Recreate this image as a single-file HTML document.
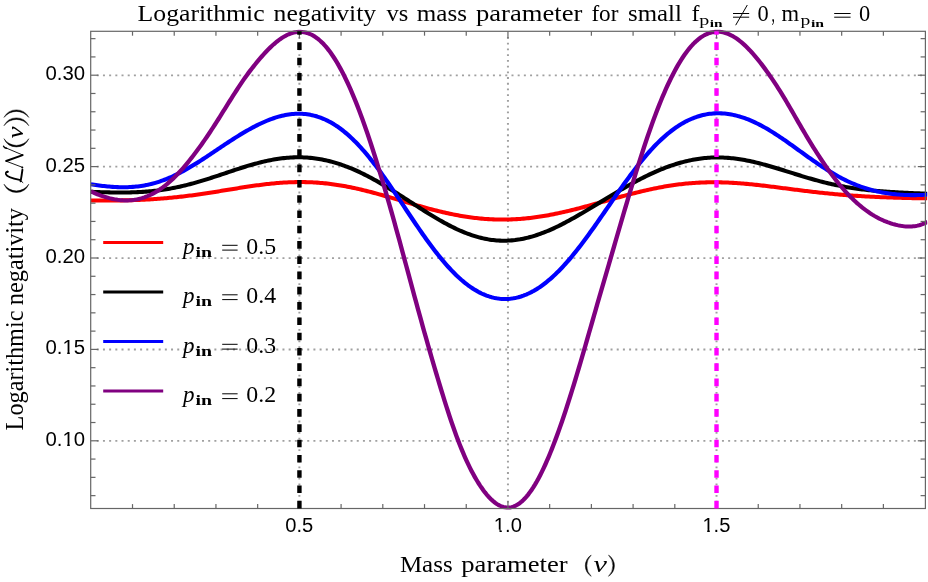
<!DOCTYPE html>
<html><head><meta charset="utf-8"><title>Logarithmic negativity vs mass parameter</title>
<style>
html,body{margin:0;padding:0;background:#fff;}
body{width:928px;height:582px;position:relative;overflow:hidden;font-family:"Liberation Sans",sans-serif;}
svg text{white-space:pre;}
</style></head><body>
<svg width="928" height="582" viewBox="0 0 928 582" style="position:absolute;left:0;top:0;will-change:transform">
<defs><clipPath id="cp"><rect x="90.20" y="29.30" width="837.00" height="481.20"/></clipPath></defs>
<g stroke="#a0a0a0" fill="none">
<line x1="96.76" y1="440.90" x2="925.40" y2="440.90" stroke-width="1.8" stroke-dasharray="2 4.19"/>
<line x1="96.76" y1="349.50" x2="925.40" y2="349.50" stroke-width="1.8" stroke-dasharray="2 4.19"/>
<line x1="96.76" y1="258.10" x2="925.40" y2="258.10" stroke-width="1.8" stroke-dasharray="2 4.19"/>
<line x1="96.76" y1="166.70" x2="925.40" y2="166.70" stroke-width="1.8" stroke-dasharray="2 4.19"/>
<line x1="96.76" y1="75.30" x2="925.40" y2="75.30" stroke-width="1.8" stroke-dasharray="2 4.19"/>
<line x1="299.38" y1="37.03" x2="299.38" y2="508.50" stroke-width="2" stroke-dasharray="1.8 3.9246"/>
<line x1="507.95" y1="37.03" x2="507.95" y2="508.50" stroke-width="2" stroke-dasharray="1.8 3.9246"/>
<line x1="716.52" y1="37.03" x2="716.52" y2="508.50" stroke-width="2" stroke-dasharray="1.8 3.9246"/>
</g>
<g clip-path="url(#cp)"><g transform="scale(1.081,1)" fill="none" stroke-width="4.05" stroke-linejoin="round">
<path d="M84.00,200.47 L85.55,200.49 L87.10,200.50 L88.65,200.52 L90.20,200.53 L91.75,200.54 L93.30,200.54 L94.86,200.55 L96.41,200.55 L97.96,200.55 L99.51,200.55 L101.06,200.54 L102.61,200.53 L104.16,200.52 L105.71,200.50 L107.27,200.49 L108.82,200.47 L110.37,200.44 L111.92,200.42 L113.47,200.39 L115.02,200.35 L116.57,200.32 L118.12,200.28 L119.68,200.23 L121.23,200.18 L122.78,200.13 L124.33,200.08 L125.88,200.02 L127.43,199.95 L128.98,199.88 L130.54,199.81 L132.09,199.74 L133.64,199.65 L135.19,199.57 L136.74,199.48 L138.29,199.38 L139.84,199.28 L141.39,199.18 L142.95,199.07 L144.50,198.95 L146.05,198.83 L147.60,198.71 L149.15,198.58 L150.70,198.44 L152.25,198.30 L153.80,198.16 L155.36,198.01 L156.91,197.85 L158.46,197.69 L160.01,197.53 L161.56,197.36 L163.11,197.18 L164.66,197.00 L166.22,196.82 L167.77,196.62 L169.32,196.43 L170.87,196.23 L172.42,196.02 L173.97,195.81 L175.52,195.60 L177.07,195.38 L178.63,195.16 L180.18,194.93 L181.73,194.70 L183.28,194.46 L184.83,194.22 L186.38,193.98 L187.93,193.73 L189.48,193.48 L191.04,193.23 L192.59,192.97 L194.14,192.72 L195.69,192.45 L197.24,192.19 L198.79,191.93 L200.34,191.66 L201.90,191.39 L203.45,191.12 L205.00,190.85 L206.55,190.57 L208.10,190.30 L209.65,190.03 L211.20,189.75 L212.75,189.48 L214.31,189.20 L215.86,188.93 L217.41,188.66 L218.96,188.39 L220.51,188.12 L222.06,187.86 L223.61,187.59 L225.16,187.33 L226.72,187.07 L228.27,186.81 L229.82,186.56 L231.37,186.31 L232.92,186.07 L234.47,185.83 L236.02,185.59 L237.58,185.36 L239.13,185.14 L240.68,184.92 L242.23,184.71 L243.78,184.50 L245.33,184.30 L246.88,184.10 L248.43,183.92 L249.99,183.74 L251.54,183.57 L253.09,183.40 L254.64,183.25 L256.19,183.10 L257.74,182.96 L259.29,182.83 L260.84,182.71 L262.40,182.60 L263.95,182.50 L265.50,182.41 L267.05,182.33 L268.60,182.26 L270.15,182.20 L271.70,182.15 L273.26,182.11 L274.81,182.08 L276.36,182.06 L277.91,182.06 L279.46,182.06 L281.01,182.08 L282.56,182.11 L284.11,182.15 L285.67,182.20 L287.22,182.27 L288.77,182.34 L290.32,182.43 L291.87,182.53 L293.42,182.64 L294.97,182.77 L296.52,182.90 L298.08,183.05 L299.63,183.21 L301.18,183.38 L302.73,183.57 L304.28,183.76 L305.83,183.97 L307.38,184.19 L308.94,184.42 L310.49,184.66 L312.04,184.91 L313.59,185.18 L315.14,185.45 L316.69,185.74 L318.24,186.04 L319.79,186.34 L321.35,186.66 L322.90,186.99 L324.45,187.32 L326.00,187.67 L327.55,188.03 L329.10,188.39 L330.65,188.77 L332.20,189.15 L333.76,189.54 L335.31,189.94 L336.86,190.35 L338.41,190.76 L339.96,191.19 L341.51,191.62 L343.06,192.05 L344.62,192.49 L346.17,192.94 L347.72,193.40 L349.27,193.86 L350.82,194.32 L352.37,194.79 L353.92,195.26 L355.47,195.74 L357.03,196.22 L358.58,196.70 L360.13,197.19 L361.68,197.68 L363.23,198.17 L364.78,198.67 L366.33,199.16 L367.88,199.66 L369.44,200.15 L370.99,200.65 L372.54,201.15 L374.09,201.65 L375.64,202.14 L377.19,202.64 L378.74,203.13 L380.30,203.62 L381.85,204.11 L383.40,204.60 L384.95,205.09 L386.50,205.57 L388.05,206.04 L389.60,206.52 L391.15,206.99 L392.71,207.45 L394.26,207.91 L395.81,208.37 L397.36,208.82 L398.91,209.26 L400.46,209.70 L402.01,210.13 L403.56,210.56 L405.12,210.97 L406.67,211.39 L408.22,211.79 L409.77,212.18 L411.32,212.57 L412.87,212.95 L414.42,213.32 L415.98,213.68 L417.53,214.03 L419.08,214.38 L420.63,214.71 L422.18,215.04 L423.73,215.35 L425.28,215.65 L426.83,215.95 L428.39,216.23 L429.94,216.50 L431.49,216.77 L433.04,217.02 L434.59,217.26 L436.14,217.49 L437.69,217.70 L439.24,217.91 L440.80,218.11 L442.35,218.29 L443.90,218.46 L445.45,218.62 L447.00,218.77 L448.55,218.90 L450.10,219.02 L451.66,219.13 L453.21,219.23 L454.76,219.32 L456.31,219.39 L457.86,219.46 L459.41,219.51 L460.96,219.54 L462.51,219.57 L464.07,219.58 L465.62,219.58 L467.17,219.57 L468.72,219.54 L470.27,219.50 L471.82,219.46 L473.37,219.39 L474.92,219.32 L476.48,219.23 L478.03,219.14 L479.58,219.03 L481.13,218.91 L482.68,218.77 L484.23,218.63 L485.78,218.47 L487.34,218.30 L488.89,218.12 L490.44,217.93 L491.99,217.73 L493.54,217.52 L495.09,217.30 L496.64,217.06 L498.19,216.82 L499.75,216.57 L501.30,216.30 L502.85,216.03 L504.40,215.74 L505.95,215.45 L507.50,215.14 L509.05,214.83 L510.60,214.51 L512.16,214.18 L513.71,213.84 L515.26,213.49 L516.81,213.14 L518.36,212.78 L519.91,212.40 L521.46,212.03 L523.02,211.64 L524.57,211.25 L526.12,210.85 L527.67,210.45 L529.22,210.03 L530.77,209.62 L532.32,209.19 L533.87,208.77 L535.43,208.33 L536.98,207.89 L538.53,207.45 L540.08,207.01 L541.63,206.56 L543.18,206.10 L544.73,205.65 L546.28,205.19 L547.84,204.72 L549.39,204.26 L550.94,203.79 L552.49,203.32 L554.04,202.85 L555.59,202.38 L557.14,201.91 L558.70,201.44 L560.25,200.96 L561.80,200.49 L563.35,200.02 L564.90,199.55 L566.45,199.08 L568.00,198.61 L569.55,198.14 L571.11,197.67 L572.66,197.21 L574.21,196.75 L575.76,196.29 L577.31,195.84 L578.86,195.39 L580.41,194.94 L581.96,194.50 L583.52,194.06 L585.07,193.63 L586.62,193.20 L588.17,192.77 L589.72,192.35 L591.27,191.94 L592.82,191.54 L594.38,191.14 L595.93,190.74 L597.48,190.36 L599.03,189.98 L600.58,189.60 L602.13,189.24 L603.68,188.88 L605.23,188.53 L606.79,188.19 L608.34,187.86 L609.89,187.53 L611.44,187.22 L612.99,186.91 L614.54,186.61 L616.09,186.32 L617.64,186.04 L619.20,185.77 L620.75,185.51 L622.30,185.26 L623.85,185.02 L625.40,184.79 L626.95,184.56 L628.50,184.35 L630.06,184.15 L631.61,183.96 L633.16,183.78 L634.71,183.61 L636.26,183.45 L637.81,183.30 L639.36,183.16 L640.91,183.03 L642.47,182.91 L644.02,182.80 L645.57,182.70 L647.12,182.61 L648.67,182.54 L650.22,182.47 L651.77,182.41 L653.32,182.36 L654.88,182.33 L656.43,182.30 L657.98,182.28 L659.53,182.27 L661.08,182.27 L662.63,182.28 L664.18,182.30 L665.74,182.33 L667.29,182.37 L668.84,182.41 L670.39,182.47 L671.94,182.53 L673.49,182.60 L675.04,182.68 L676.59,182.77 L678.15,182.87 L679.70,182.97 L681.25,183.08 L682.80,183.19 L684.35,183.32 L685.90,183.45 L687.45,183.59 L689.00,183.73 L690.56,183.88 L692.11,184.03 L693.66,184.19 L695.21,184.36 L696.76,184.53 L698.31,184.70 L699.86,184.88 L701.42,185.06 L702.97,185.25 L704.52,185.44 L706.07,185.63 L707.62,185.83 L709.17,186.03 L710.72,186.23 L712.27,186.44 L713.83,186.65 L715.38,186.85 L716.93,187.07 L718.48,187.28 L720.03,187.49 L721.58,187.71 L723.13,187.92 L724.68,188.14 L726.24,188.35 L727.79,188.57 L729.34,188.79 L730.89,189.00 L732.44,189.22 L733.99,189.43 L735.54,189.65 L737.10,189.86 L738.65,190.07 L740.20,190.28 L741.75,190.49 L743.30,190.70 L744.85,190.91 L746.40,191.11 L747.95,191.31 L749.51,191.51 L751.06,191.71 L752.61,191.90 L754.16,192.09 L755.71,192.28 L757.26,192.47 L758.81,192.65 L760.36,192.83 L761.92,193.01 L763.47,193.19 L765.02,193.36 L766.57,193.53 L768.12,193.69 L769.67,193.85 L771.22,194.01 L772.78,194.17 L774.33,194.32 L775.88,194.47 L777.43,194.61 L778.98,194.75 L780.53,194.89 L782.08,195.03 L783.63,195.16 L785.19,195.29 L786.74,195.41 L788.29,195.54 L789.84,195.65 L791.39,195.77 L792.94,195.88 L794.49,195.99 L796.04,196.10 L797.60,196.20 L799.15,196.30 L800.70,196.40 L802.25,196.49 L803.80,196.58 L805.35,196.67 L806.90,196.76 L808.46,196.84 L810.01,196.92 L811.56,197.00 L813.11,197.07 L814.66,197.15 L816.21,197.22 L817.76,197.28 L819.31,197.35 L820.87,197.41 L822.42,197.48 L823.97,197.53 L825.52,197.59 L827.07,197.65 L828.62,197.70 L830.17,197.75 L831.72,197.80 L833.28,197.84 L834.83,197.89 L836.38,197.93 L837.93,197.97 L839.48,198.01 L841.03,198.05 L842.58,198.08 L844.14,198.12 L845.69,198.15 L847.24,198.18 L848.79,198.21 L850.34,198.23 L851.89,198.26 L853.44,198.28 L854.99,198.30 L856.55,198.32 L858.10,198.33" stroke="#ff0000"/>
<path d="M84.00,191.82 L85.55,191.88 L87.10,191.94 L88.65,192.00 L90.20,192.06 L91.75,192.11 L93.30,192.17 L94.86,192.21 L96.41,192.26 L97.96,192.30 L99.51,192.34 L101.06,192.38 L102.61,192.41 L104.16,192.44 L105.71,192.46 L107.27,192.48 L108.82,192.49 L110.37,192.50 L111.92,192.50 L113.47,192.50 L115.02,192.49 L116.57,192.47 L118.12,192.45 L119.68,192.41 L121.23,192.38 L122.78,192.33 L124.33,192.27 L125.88,192.21 L127.43,192.13 L128.98,192.05 L130.54,191.96 L132.09,191.86 L133.64,191.74 L135.19,191.62 L136.74,191.49 L138.29,191.34 L139.84,191.18 L141.39,191.02 L142.95,190.84 L144.50,190.65 L146.05,190.44 L147.60,190.23 L149.15,190.00 L150.70,189.76 L152.25,189.51 L153.80,189.24 L155.36,188.96 L156.91,188.67 L158.46,188.37 L160.01,188.06 L161.56,187.73 L163.11,187.39 L164.66,187.03 L166.22,186.67 L167.77,186.29 L169.32,185.90 L170.87,185.50 L172.42,185.09 L173.97,184.67 L175.52,184.23 L177.07,183.79 L178.63,183.33 L180.18,182.86 L181.73,182.39 L183.28,181.90 L184.83,181.41 L186.38,180.91 L187.93,180.40 L189.48,179.88 L191.04,179.36 L192.59,178.83 L194.14,178.29 L195.69,177.75 L197.24,177.20 L198.79,176.65 L200.34,176.10 L201.90,175.54 L203.45,174.98 L205.00,174.42 L206.55,173.85 L208.10,173.29 L209.65,172.73 L211.20,172.16 L212.75,171.60 L214.31,171.04 L215.86,170.48 L217.41,169.93 L218.96,169.38 L220.51,168.83 L222.06,168.29 L223.61,167.76 L225.16,167.23 L226.72,166.71 L228.27,166.20 L229.82,165.69 L231.37,165.20 L232.92,164.71 L234.47,164.24 L236.02,163.78 L237.58,163.32 L239.13,162.88 L240.68,162.46 L242.23,162.04 L243.78,161.64 L245.33,161.26 L246.88,160.89 L248.43,160.54 L249.99,160.20 L251.54,159.87 L253.09,159.57 L254.64,159.28 L256.19,159.01 L257.74,158.76 L259.29,158.53 L260.84,158.31 L262.40,158.12 L263.95,157.94 L265.50,157.79 L267.05,157.65 L268.60,157.54 L270.15,157.45 L271.70,157.38 L273.26,157.33 L274.81,157.30 L276.36,157.29 L277.91,157.31 L279.46,157.34 L281.01,157.40 L282.56,157.49 L284.11,157.59 L285.67,157.72 L287.22,157.87 L288.77,158.04 L290.32,158.24 L291.87,158.46 L293.42,158.70 L294.97,158.97 L296.52,159.25 L298.08,159.56 L299.63,159.90 L301.18,160.25 L302.73,160.63 L304.28,161.04 L305.83,161.46 L307.38,161.91 L308.94,162.38 L310.49,162.87 L312.04,163.38 L313.59,163.91 L315.14,164.47 L316.69,165.05 L318.24,165.64 L319.79,166.26 L321.35,166.90 L322.90,167.56 L324.45,168.24 L326.00,168.94 L327.55,169.66 L329.10,170.40 L330.65,171.15 L332.20,171.93 L333.76,172.72 L335.31,173.53 L336.86,174.36 L338.41,175.20 L339.96,176.06 L341.51,176.94 L343.06,177.83 L344.62,178.73 L346.17,179.65 L347.72,180.59 L349.27,181.53 L350.82,182.50 L352.37,183.47 L353.92,184.45 L355.47,185.45 L357.03,186.45 L358.58,187.47 L360.13,188.50 L361.68,189.53 L363.23,190.57 L364.78,191.62 L366.33,192.68 L367.88,193.74 L369.44,194.81 L370.99,195.88 L372.54,196.96 L374.09,198.04 L375.64,199.12 L377.19,200.21 L378.74,201.29 L380.30,202.38 L381.85,203.46 L383.40,204.55 L384.95,205.63 L386.50,206.71 L388.05,207.78 L389.60,208.85 L391.15,209.92 L392.71,210.98 L394.26,212.04 L395.81,213.08 L397.36,214.12 L398.91,215.15 L400.46,216.17 L402.01,217.17 L403.56,218.17 L405.12,219.15 L406.67,220.12 L408.22,221.08 L409.77,222.02 L411.32,222.95 L412.87,223.86 L414.42,224.75 L415.98,225.62 L417.53,226.48 L419.08,227.32 L420.63,228.14 L422.18,228.93 L423.73,229.71 L425.28,230.46 L426.83,231.19 L428.39,231.90 L429.94,232.58 L431.49,233.24 L433.04,233.88 L434.59,234.49 L436.14,235.07 L437.69,235.63 L439.24,236.16 L440.80,236.66 L442.35,237.13 L443.90,237.58 L445.45,237.99 L447.00,238.38 L448.55,238.74 L450.10,239.07 L451.66,239.37 L453.21,239.64 L454.76,239.88 L456.31,240.09 L457.86,240.27 L459.41,240.42 L460.96,240.54 L462.51,240.62 L464.07,240.68 L465.62,240.70 L467.17,240.70 L468.72,240.66 L470.27,240.60 L471.82,240.50 L473.37,240.37 L474.92,240.21 L476.48,240.03 L478.03,239.81 L479.58,239.56 L481.13,239.29 L482.68,238.98 L484.23,238.65 L485.78,238.29 L487.34,237.90 L488.89,237.49 L490.44,237.04 L491.99,236.57 L493.54,236.08 L495.09,235.56 L496.64,235.01 L498.19,234.44 L499.75,233.85 L501.30,233.23 L502.85,232.59 L504.40,231.93 L505.95,231.25 L507.50,230.55 L509.05,229.82 L510.60,229.08 L512.16,228.31 L513.71,227.53 L515.26,226.73 L516.81,225.92 L518.36,225.09 L519.91,224.24 L521.46,223.37 L523.02,222.50 L524.57,221.61 L526.12,220.70 L527.67,219.79 L529.22,218.86 L530.77,217.92 L532.32,216.97 L533.87,216.01 L535.43,215.05 L536.98,214.07 L538.53,213.09 L540.08,212.10 L541.63,211.10 L543.18,210.10 L544.73,209.10 L546.28,208.09 L547.84,207.07 L549.39,206.06 L550.94,205.04 L552.49,204.02 L554.04,203.00 L555.59,201.98 L557.14,200.96 L558.70,199.94 L560.25,198.92 L561.80,197.90 L563.35,196.89 L564.90,195.88 L566.45,194.87 L568.00,193.86 L569.55,192.87 L571.11,191.87 L572.66,190.89 L574.21,189.90 L575.76,188.93 L577.31,187.96 L578.86,187.00 L580.41,186.05 L581.96,185.11 L583.52,184.18 L585.07,183.25 L586.62,182.34 L588.17,181.44 L589.72,180.55 L591.27,179.67 L592.82,178.80 L594.38,177.94 L595.93,177.10 L597.48,176.27 L599.03,175.45 L600.58,174.65 L602.13,173.86 L603.68,173.09 L605.23,172.33 L606.79,171.59 L608.34,170.86 L609.89,170.15 L611.44,169.46 L612.99,168.78 L614.54,168.12 L616.09,167.48 L617.64,166.85 L619.20,166.24 L620.75,165.66 L622.30,165.09 L623.85,164.53 L625.40,164.00 L626.95,163.49 L628.50,163.00 L630.06,162.52 L631.61,162.07 L633.16,161.64 L634.71,161.23 L636.26,160.84 L637.81,160.47 L639.36,160.12 L640.91,159.79 L642.47,159.48 L644.02,159.20 L645.57,158.93 L647.12,158.69 L648.67,158.47 L650.22,158.27 L651.77,158.10 L653.32,157.94 L654.88,157.81 L656.43,157.69 L657.98,157.60 L659.53,157.54 L661.08,157.49 L662.63,157.46 L664.18,157.46 L665.74,157.47 L667.29,157.51 L668.84,157.57 L670.39,157.65 L671.94,157.75 L673.49,157.87 L675.04,158.01 L676.59,158.16 L678.15,158.34 L679.70,158.54 L681.25,158.75 L682.80,158.99 L684.35,159.24 L685.90,159.50 L687.45,159.79 L689.00,160.09 L690.56,160.41 L692.11,160.74 L693.66,161.09 L695.21,161.45 L696.76,161.82 L698.31,162.21 L699.86,162.62 L701.42,163.03 L702.97,163.46 L704.52,163.89 L706.07,164.34 L707.62,164.80 L709.17,165.26 L710.72,165.74 L712.27,166.22 L713.83,166.71 L715.38,167.21 L716.93,167.71 L718.48,168.22 L720.03,168.73 L721.58,169.25 L723.13,169.77 L724.68,170.29 L726.24,170.82 L727.79,171.34 L729.34,171.87 L730.89,172.40 L732.44,172.93 L733.99,173.45 L735.54,173.98 L737.10,174.50 L738.65,175.02 L740.20,175.54 L741.75,176.05 L743.30,176.56 L744.85,177.07 L746.40,177.57 L747.95,178.06 L749.51,178.55 L751.06,179.03 L752.61,179.51 L754.16,179.97 L755.71,180.43 L757.26,180.89 L758.81,181.33 L760.36,181.77 L761.92,182.19 L763.47,182.61 L765.02,183.02 L766.57,183.42 L768.12,183.81 L769.67,184.19 L771.22,184.56 L772.78,184.92 L774.33,185.27 L775.88,185.61 L777.43,185.95 L778.98,186.27 L780.53,186.58 L782.08,186.88 L783.63,187.17 L785.19,187.45 L786.74,187.73 L788.29,187.99 L789.84,188.24 L791.39,188.49 L792.94,188.73 L794.49,188.95 L796.04,189.17 L797.60,189.38 L799.15,189.58 L800.70,189.78 L802.25,189.97 L803.80,190.15 L805.35,190.32 L806.90,190.48 L808.46,190.64 L810.01,190.80 L811.56,190.94 L813.11,191.08 L814.66,191.22 L816.21,191.35 L817.76,191.48 L819.31,191.60 L820.87,191.71 L822.42,191.83 L823.97,191.94 L825.52,192.04 L827.07,192.14 L828.62,192.24 L830.17,192.34 L831.72,192.43 L833.28,192.52 L834.83,192.61 L836.38,192.70 L837.93,192.78 L839.48,192.86 L841.03,192.94 L842.58,193.02 L844.14,193.10 L845.69,193.17 L847.24,193.24 L848.79,193.32 L850.34,193.39 L851.89,193.45 L853.44,193.52 L854.99,193.59 L856.55,193.65 L858.10,193.71" stroke="#000000"/>
<path d="M84.00,184.14 L85.55,184.43 L87.10,184.71 L88.65,184.98 L90.20,185.23 L91.75,185.47 L93.30,185.69 L94.86,185.90 L96.41,186.10 L97.96,186.29 L99.51,186.45 L101.06,186.61 L102.61,186.75 L104.16,186.87 L105.71,186.98 L107.27,187.06 L108.82,187.14 L110.37,187.19 L111.92,187.22 L113.47,187.24 L115.02,187.23 L116.57,187.21 L118.12,187.16 L119.68,187.09 L121.23,187.00 L122.78,186.89 L124.33,186.75 L125.88,186.59 L127.43,186.40 L128.98,186.19 L130.54,185.95 L132.09,185.69 L133.64,185.40 L135.19,185.08 L136.74,184.74 L138.29,184.36 L139.84,183.96 L141.39,183.54 L142.95,183.08 L144.50,182.59 L146.05,182.08 L147.60,181.54 L149.15,180.97 L150.70,180.37 L152.25,179.75 L153.80,179.09 L155.36,178.41 L156.91,177.70 L158.46,176.97 L160.01,176.21 L161.56,175.42 L163.11,174.61 L164.66,173.77 L166.22,172.91 L167.77,172.03 L169.32,171.13 L170.87,170.21 L172.42,169.26 L173.97,168.30 L175.52,167.32 L177.07,166.33 L178.63,165.32 L180.18,164.29 L181.73,163.25 L183.28,162.20 L184.83,161.14 L186.38,160.06 L187.93,158.98 L189.48,157.89 L191.04,156.78 L192.59,155.68 L194.14,154.57 L195.69,153.45 L197.24,152.33 L198.79,151.21 L200.34,150.08 L201.90,148.96 L203.45,147.83 L205.00,146.71 L206.55,145.60 L208.10,144.48 L209.65,143.37 L211.20,142.27 L212.75,141.18 L214.31,140.09 L215.86,139.01 L217.41,137.94 L218.96,136.89 L220.51,135.84 L222.06,134.81 L223.61,133.79 L225.16,132.79 L226.72,131.80 L228.27,130.83 L229.82,129.87 L231.37,128.93 L232.92,128.01 L234.47,127.12 L236.02,126.24 L237.58,125.38 L239.13,124.55 L240.68,123.74 L242.23,122.96 L243.78,122.20 L245.33,121.47 L246.88,120.77 L248.43,120.09 L249.99,119.45 L251.54,118.83 L253.09,118.25 L254.64,117.69 L256.19,117.17 L257.74,116.69 L259.29,116.23 L260.84,115.82 L262.40,115.43 L263.95,115.09 L265.50,114.78 L267.05,114.51 L268.60,114.28 L270.15,114.09 L271.70,113.94 L273.26,113.84 L274.81,113.77 L276.36,113.75 L277.91,113.77 L279.46,113.84 L281.01,113.95 L282.56,114.11 L284.11,114.31 L285.67,114.56 L287.22,114.86 L288.77,115.21 L290.32,115.61 L291.87,116.05 L293.42,116.55 L294.97,117.09 L296.52,117.69 L298.08,118.34 L299.63,119.03 L301.18,119.78 L302.73,120.58 L304.28,121.44 L305.83,122.34 L307.38,123.30 L308.94,124.31 L310.49,125.38 L312.04,126.49 L313.59,127.66 L315.14,128.89 L316.69,130.16 L318.24,131.49 L319.79,132.87 L321.35,134.30 L322.90,135.78 L324.45,137.32 L326.00,138.90 L327.55,140.53 L329.10,142.22 L330.65,143.95 L332.20,145.73 L333.76,147.56 L335.31,149.43 L336.86,151.35 L338.41,153.32 L339.96,155.32 L341.51,157.37 L343.06,159.46 L344.62,161.58 L346.17,163.74 L347.72,165.94 L349.27,168.18 L350.82,170.44 L352.37,172.74 L353.92,175.07 L355.47,177.42 L357.03,179.80 L358.58,182.20 L360.13,184.62 L361.68,187.07 L363.23,189.53 L364.78,192.00 L366.33,194.49 L367.88,196.99 L369.44,199.50 L370.99,202.01 L372.54,204.53 L374.09,207.05 L375.64,209.57 L377.19,212.09 L378.74,214.61 L380.30,217.11 L381.85,219.61 L383.40,222.10 L384.95,224.58 L386.50,227.04 L388.05,229.48 L389.60,231.90 L391.15,234.31 L392.71,236.69 L394.26,239.04 L395.81,241.37 L397.36,243.67 L398.91,245.94 L400.46,248.17 L402.01,250.37 L403.56,252.54 L405.12,254.67 L406.67,256.76 L408.22,258.81 L409.77,260.82 L411.32,262.79 L412.87,264.71 L414.42,266.59 L415.98,268.42 L417.53,270.21 L419.08,271.94 L420.63,273.63 L422.18,275.27 L423.73,276.86 L425.28,278.39 L426.83,279.88 L428.39,281.31 L429.94,282.69 L431.49,284.01 L433.04,285.28 L434.59,286.49 L436.14,287.65 L437.69,288.76 L439.24,289.81 L440.80,290.80 L442.35,291.74 L443.90,292.62 L445.45,293.44 L447.00,294.21 L448.55,294.92 L450.10,295.57 L451.66,296.17 L453.21,296.71 L454.76,297.19 L456.31,297.62 L457.86,297.99 L459.41,298.30 L460.96,298.56 L462.51,298.76 L464.07,298.90 L465.62,298.98 L467.17,299.01 L468.72,298.99 L470.27,298.90 L471.82,298.76 L473.37,298.56 L474.92,298.31 L476.48,298.00 L478.03,297.64 L479.58,297.22 L481.13,296.74 L482.68,296.21 L484.23,295.62 L485.78,294.98 L487.34,294.29 L488.89,293.54 L490.44,292.73 L491.99,291.87 L493.54,290.96 L495.09,289.99 L496.64,288.97 L498.19,287.90 L499.75,286.77 L501.30,285.59 L502.85,284.36 L504.40,283.08 L505.95,281.75 L507.50,280.36 L509.05,278.93 L510.60,277.45 L512.16,275.92 L513.71,274.34 L515.26,272.72 L516.81,271.05 L518.36,269.33 L519.91,267.57 L521.46,265.77 L523.02,263.92 L524.57,262.03 L526.12,260.11 L527.67,258.14 L529.22,256.13 L530.77,254.09 L532.32,252.02 L533.87,249.91 L535.43,247.77 L536.98,245.59 L538.53,243.39 L540.08,241.16 L541.63,238.90 L543.18,236.62 L544.73,234.32 L546.28,231.99 L547.84,229.65 L549.39,227.29 L550.94,224.91 L552.49,222.52 L554.04,220.11 L555.59,217.70 L557.14,215.28 L558.70,212.85 L560.25,210.42 L561.80,207.99 L563.35,205.55 L564.90,203.12 L566.45,200.69 L568.00,198.27 L569.55,195.85 L571.11,193.45 L572.66,191.05 L574.21,188.67 L575.76,186.31 L577.31,183.96 L578.86,181.63 L580.41,179.32 L581.96,177.03 L583.52,174.77 L585.07,172.53 L586.62,170.32 L588.17,168.14 L589.72,165.99 L591.27,163.87 L592.82,161.78 L594.38,159.73 L595.93,157.72 L597.48,155.74 L599.03,153.80 L600.58,151.89 L602.13,150.03 L603.68,148.21 L605.23,146.43 L606.79,144.70 L608.34,143.00 L609.89,141.36 L611.44,139.75 L612.99,138.20 L614.54,136.68 L616.09,135.22 L617.64,133.80 L619.20,132.43 L620.75,131.11 L622.30,129.83 L623.85,128.60 L625.40,127.42 L626.95,126.29 L628.50,125.21 L630.06,124.18 L631.61,123.19 L633.16,122.25 L634.71,121.36 L636.26,120.52 L637.81,119.73 L639.36,118.98 L640.91,118.28 L642.47,117.63 L644.02,117.03 L645.57,116.47 L647.12,115.96 L648.67,115.49 L650.22,115.07 L651.77,114.70 L653.32,114.37 L654.88,114.08 L656.43,113.84 L657.98,113.65 L659.53,113.49 L661.08,113.38 L662.63,113.31 L664.18,113.29 L665.74,113.30 L667.29,113.36 L668.84,113.45 L670.39,113.59 L671.94,113.77 L673.49,113.99 L675.04,114.24 L676.59,114.53 L678.15,114.87 L679.70,115.24 L681.25,115.64 L682.80,116.09 L684.35,116.56 L685.90,117.08 L687.45,117.63 L689.00,118.21 L690.56,118.83 L692.11,119.47 L693.66,120.16 L695.21,120.87 L696.76,121.61 L698.31,122.39 L699.86,123.19 L701.42,124.02 L702.97,124.88 L704.52,125.77 L706.07,126.68 L707.62,127.62 L709.17,128.58 L710.72,129.57 L712.27,130.58 L713.83,131.61 L715.38,132.66 L716.93,133.73 L718.48,134.81 L720.03,135.92 L721.58,137.04 L723.13,138.17 L724.68,139.32 L726.24,140.48 L727.79,141.65 L729.34,142.83 L730.89,144.02 L732.44,145.22 L733.99,146.42 L735.54,147.62 L737.10,148.83 L738.65,150.05 L740.20,151.26 L741.75,152.47 L743.30,153.68 L744.85,154.88 L746.40,156.08 L747.95,157.28 L749.51,158.47 L751.06,159.65 L752.61,160.82 L754.16,161.98 L755.71,163.13 L757.26,164.27 L758.81,165.39 L760.36,166.50 L761.92,167.59 L763.47,168.67 L765.02,169.73 L766.57,170.77 L768.12,171.80 L769.67,172.81 L771.22,173.79 L772.78,174.76 L774.33,175.70 L775.88,176.63 L777.43,177.53 L778.98,178.41 L780.53,179.27 L782.08,180.10 L783.63,180.92 L785.19,181.71 L786.74,182.47 L788.29,183.22 L789.84,183.93 L791.39,184.63 L792.94,185.29 L794.49,185.94 L796.04,186.56 L797.60,187.15 L799.15,187.72 L800.70,188.26 L802.25,188.78 L803.80,189.28 L805.35,189.75 L806.90,190.20 L808.46,190.63 L810.01,191.03 L811.56,191.42 L813.11,191.78 L814.66,192.11 L816.21,192.43 L817.76,192.73 L819.31,193.01 L820.87,193.27 L822.42,193.51 L823.97,193.73 L825.52,193.93 L827.07,194.12 L828.62,194.29 L830.17,194.44 L831.72,194.58 L833.28,194.70 L834.83,194.81 L836.38,194.90 L837.93,194.97 L839.48,195.03 L841.03,195.08 L842.58,195.11 L844.14,195.13 L845.69,195.13 L847.24,195.12 L848.79,195.09 L850.34,195.05 L851.89,194.99 L853.44,194.91 L854.99,194.82 L856.55,194.72 L858.10,194.59" stroke="#0000ff"/>
<path d="M84.00,191.24 L85.55,192.06 L87.10,192.84 L88.65,193.58 L90.20,194.28 L91.75,194.94 L93.30,195.56 L94.86,196.15 L96.41,196.70 L97.96,197.21 L99.51,197.69 L101.06,198.14 L102.61,198.55 L104.16,198.92 L105.71,199.26 L107.27,199.55 L108.82,199.81 L110.37,200.02 L111.92,200.19 L113.47,200.32 L115.02,200.40 L116.57,200.44 L118.12,200.42 L119.68,200.35 L121.23,200.23 L122.78,200.06 L124.33,199.83 L125.88,199.55 L127.43,199.21 L128.98,198.81 L130.54,198.36 L132.09,197.85 L133.64,197.28 L135.19,196.66 L136.74,195.98 L138.29,195.25 L139.84,194.46 L141.39,193.61 L142.95,192.71 L144.50,191.74 L146.05,190.72 L147.60,189.63 L149.15,188.48 L150.70,187.27 L152.25,186.00 L153.80,184.67 L155.36,183.28 L156.91,181.82 L158.46,180.31 L160.01,178.74 L161.56,177.12 L163.11,175.43 L164.66,173.70 L166.22,171.91 L167.77,170.07 L169.32,168.18 L170.87,166.24 L172.42,164.26 L173.97,162.23 L175.52,160.16 L177.07,158.04 L178.63,155.89 L180.18,153.70 L181.73,151.46 L183.28,149.19 L184.83,146.89 L186.38,144.55 L187.93,142.17 L189.48,139.76 L191.04,137.32 L192.59,134.85 L194.14,132.34 L195.69,129.81 L197.24,127.24 L198.79,124.64 L200.34,122.02 L201.90,119.38 L203.45,116.72 L205.00,114.04 L206.55,111.36 L208.10,108.67 L209.65,105.99 L211.20,103.30 L212.75,100.63 L214.31,97.96 L215.86,95.31 L217.41,92.69 L218.96,90.09 L220.51,87.51 L222.06,84.98 L223.61,82.48 L225.16,80.03 L226.72,77.63 L228.27,75.29 L229.82,73.00 L231.37,70.77 L232.92,68.59 L234.47,66.45 L236.02,64.36 L237.58,62.30 L239.13,60.28 L240.68,58.30 L242.23,56.37 L243.78,54.49 L245.33,52.66 L246.88,50.88 L248.43,49.17 L249.99,47.51 L251.54,45.92 L253.09,44.40 L254.64,42.95 L256.19,41.58 L257.74,40.28 L259.29,39.06 L260.84,37.92 L262.40,36.87 L263.95,35.92 L265.50,35.05 L267.05,34.28 L268.60,33.62 L270.15,33.05 L271.70,32.59 L273.26,32.24 L274.81,32.00 L276.36,31.86 L277.91,31.85 L279.46,31.95 L281.01,32.16 L282.56,32.50 L284.11,32.96 L285.67,33.54 L287.22,34.24 L288.77,35.07 L290.32,36.02 L291.87,37.10 L293.42,38.31 L294.97,39.65 L296.52,41.12 L298.08,42.72 L299.63,44.45 L301.18,46.31 L302.73,48.31 L304.28,50.44 L305.83,52.70 L307.38,55.09 L308.94,57.61 L310.49,60.26 L312.04,63.04 L313.59,65.94 L315.14,68.98 L316.69,72.14 L318.24,75.42 L319.79,78.83 L321.35,82.36 L322.90,86.01 L324.45,89.79 L326.00,93.68 L327.55,97.69 L329.10,101.81 L330.65,106.04 L332.20,110.39 L333.76,114.85 L335.31,119.41 L336.86,124.07 L338.41,128.84 L339.96,133.70 L341.51,138.66 L343.06,143.71 L344.62,148.84 L346.17,154.06 L347.72,159.36 L349.27,164.74 L350.82,170.19 L352.37,175.70 L353.92,181.28 L355.47,186.93 L357.03,192.64 L358.58,198.41 L360.13,204.25 L361.68,210.14 L363.23,216.09 L364.78,222.08 L366.33,228.13 L367.88,234.22 L369.44,240.35 L370.99,246.51 L372.54,252.69 L374.09,258.90 L375.64,265.12 L377.19,271.34 L378.74,277.57 L380.30,283.78 L381.85,289.98 L383.40,296.17 L384.95,302.32 L386.50,308.45 L388.05,314.55 L389.60,320.62 L391.15,326.65 L392.71,332.64 L394.26,338.60 L395.81,344.51 L397.36,350.38 L398.91,356.20 L400.46,361.98 L402.01,367.71 L403.56,373.39 L405.12,379.02 L406.67,384.60 L408.22,390.12 L409.77,395.57 L411.32,400.95 L412.87,406.24 L414.42,411.45 L415.98,416.55 L417.53,421.54 L419.08,426.42 L420.63,431.17 L422.18,435.79 L423.73,440.26 L425.28,444.59 L426.83,448.77 L428.39,452.80 L429.94,456.68 L431.49,460.42 L433.04,464.01 L434.59,467.46 L436.14,470.77 L437.69,473.93 L439.24,476.96 L440.80,479.86 L442.35,482.62 L443.90,485.24 L445.45,487.73 L447.00,490.09 L448.55,492.32 L450.10,494.41 L451.66,496.35 L453.21,498.15 L454.76,499.80 L456.31,501.31 L457.86,502.65 L459.41,503.84 L460.96,504.88 L462.51,505.75 L464.07,506.45 L465.62,506.99 L467.17,507.36 L468.72,507.56 L470.27,507.58 L471.82,507.43 L473.37,507.11 L474.92,506.61 L476.48,505.93 L478.03,505.08 L479.58,504.05 L481.13,502.84 L482.68,501.46 L484.23,499.91 L485.78,498.18 L487.34,496.27 L488.89,494.20 L490.44,491.96 L491.99,489.55 L493.54,486.98 L495.09,484.25 L496.64,481.36 L498.19,478.31 L499.75,475.11 L501.30,471.76 L502.85,468.26 L504.40,464.62 L505.95,460.84 L507.50,456.93 L509.05,452.89 L510.60,448.72 L512.16,444.43 L513.71,440.01 L515.26,435.49 L516.81,430.85 L518.36,426.11 L519.91,421.26 L521.46,416.32 L523.02,411.29 L524.57,406.16 L526.12,400.95 L527.67,395.66 L529.22,390.28 L530.77,384.84 L532.32,379.33 L533.87,373.75 L535.43,368.13 L536.98,362.45 L538.53,356.73 L540.08,350.98 L541.63,345.19 L543.18,339.38 L544.73,333.55 L546.28,327.71 L547.84,321.87 L549.39,316.02 L550.94,310.18 L552.49,304.34 L554.04,298.53 L555.59,292.73 L557.14,286.95 L558.70,281.18 L560.25,275.42 L561.80,269.67 L563.35,263.91 L564.90,258.15 L566.45,252.39 L568.00,246.61 L569.55,240.84 L571.11,235.06 L572.66,229.29 L574.21,223.54 L575.76,217.80 L577.31,212.07 L578.86,206.38 L580.41,200.71 L581.96,195.08 L583.52,189.49 L585.07,183.94 L586.62,178.44 L588.17,172.99 L589.72,167.61 L591.27,162.28 L592.82,157.02 L594.38,151.83 L595.93,146.71 L597.48,141.68 L599.03,136.73 L600.58,131.87 L602.13,127.11 L603.68,122.44 L605.23,117.87 L606.79,113.40 L608.34,109.03 L609.89,104.77 L611.44,100.62 L612.99,96.58 L614.54,92.66 L616.09,88.85 L617.64,85.15 L619.20,81.57 L620.75,78.12 L622.30,74.78 L623.85,71.57 L625.40,68.47 L626.95,65.51 L628.50,62.66 L630.06,59.94 L631.61,57.35 L633.16,54.89 L634.71,52.55 L636.26,50.34 L637.81,48.25 L639.36,46.29 L640.91,44.46 L642.47,42.75 L644.02,41.17 L645.57,39.72 L647.12,38.39 L648.67,37.18 L650.22,36.10 L651.77,35.14 L653.32,34.30 L654.88,33.58 L656.43,32.98 L657.98,32.50 L659.53,32.14 L661.08,31.89 L662.63,31.75 L664.18,31.73 L665.74,31.82 L667.29,32.02 L668.84,32.33 L670.39,32.75 L671.94,33.27 L673.49,33.89 L675.04,34.61 L676.59,35.43 L678.15,36.35 L679.70,37.36 L681.25,38.46 L682.80,39.66 L684.35,40.94 L685.90,42.30 L687.45,43.75 L689.00,45.27 L690.56,46.87 L692.11,48.55 L693.66,50.29 L695.21,52.11 L696.76,53.98 L698.31,55.93 L699.86,57.93 L701.42,59.98 L702.97,62.10 L704.52,64.26 L706.07,66.47 L707.62,68.73 L709.17,71.03 L710.72,73.38 L712.27,75.78 L713.83,78.22 L715.38,80.70 L716.93,83.23 L718.48,85.80 L720.03,88.42 L721.58,91.07 L723.13,93.77 L724.68,96.51 L726.24,99.29 L727.79,102.11 L729.34,104.97 L730.89,107.85 L732.44,110.75 L733.99,113.67 L735.54,116.59 L737.10,119.51 L738.65,122.43 L740.20,125.32 L741.75,128.20 L743.30,131.06 L744.85,133.89 L746.40,136.70 L747.95,139.48 L749.51,142.24 L751.06,144.97 L752.61,147.67 L754.16,150.33 L755.71,152.97 L757.26,155.57 L758.81,158.14 L760.36,160.67 L761.92,163.16 L763.47,165.61 L765.02,168.02 L766.57,170.38 L768.12,172.70 L769.67,174.98 L771.22,177.21 L772.78,179.39 L774.33,181.52 L775.88,183.60 L777.43,185.64 L778.98,187.63 L780.53,189.56 L782.08,191.44 L783.63,193.28 L785.19,195.06 L786.74,196.79 L788.29,198.46 L789.84,200.09 L791.39,201.66 L792.94,203.18 L794.49,204.64 L796.04,206.06 L797.60,207.43 L799.15,208.74 L800.70,210.01 L802.25,211.24 L803.80,212.41 L805.35,213.54 L806.90,214.62 L808.46,215.65 L810.01,216.62 L811.56,217.55 L813.11,218.43 L814.66,219.26 L816.21,220.04 L817.76,220.78 L819.31,221.47 L820.87,222.12 L822.42,222.72 L823.97,223.28 L825.52,223.81 L827.07,224.30 L828.62,224.74 L830.17,225.14 L831.72,225.49 L833.28,225.80 L834.83,226.05 L836.38,226.25 L837.93,226.40 L839.48,226.48 L841.03,226.51 L842.58,226.47 L844.14,226.36 L845.69,226.19 L847.24,225.94 L848.79,225.61 L850.34,225.20 L851.89,224.71 L853.44,224.12 L854.99,223.44 L856.55,222.66 L858.10,221.77" stroke="#800080"/>
</g></g>
<g stroke="#666" stroke-width="1.2" fill="none">
<rect x="90.70" y="31.30" width="834.70" height="477.20"/>
<line x1="132.51" y1="508.50" x2="132.51" y2="504.10"/>
<line x1="132.51" y1="31.30" x2="132.51" y2="35.70"/>
<line x1="174.23" y1="508.50" x2="174.23" y2="504.10"/>
<line x1="174.23" y1="31.30" x2="174.23" y2="35.70"/>
<line x1="215.94" y1="508.50" x2="215.94" y2="504.10"/>
<line x1="215.94" y1="31.30" x2="215.94" y2="35.70"/>
<line x1="257.66" y1="508.50" x2="257.66" y2="504.10"/>
<line x1="257.66" y1="31.30" x2="257.66" y2="35.70"/>
<line x1="299.38" y1="508.50" x2="299.38" y2="501.30"/>
<line x1="299.38" y1="31.30" x2="299.38" y2="38.50"/>
<line x1="341.09" y1="508.50" x2="341.09" y2="504.10"/>
<line x1="341.09" y1="31.30" x2="341.09" y2="35.70"/>
<line x1="382.80" y1="508.50" x2="382.80" y2="504.10"/>
<line x1="382.80" y1="31.30" x2="382.80" y2="35.70"/>
<line x1="424.52" y1="508.50" x2="424.52" y2="504.10"/>
<line x1="424.52" y1="31.30" x2="424.52" y2="35.70"/>
<line x1="466.24" y1="508.50" x2="466.24" y2="504.10"/>
<line x1="466.24" y1="31.30" x2="466.24" y2="35.70"/>
<line x1="507.95" y1="508.50" x2="507.95" y2="501.30"/>
<line x1="507.95" y1="31.30" x2="507.95" y2="38.50"/>
<line x1="549.66" y1="508.50" x2="549.66" y2="504.10"/>
<line x1="549.66" y1="31.30" x2="549.66" y2="35.70"/>
<line x1="591.38" y1="508.50" x2="591.38" y2="504.10"/>
<line x1="591.38" y1="31.30" x2="591.38" y2="35.70"/>
<line x1="633.09" y1="508.50" x2="633.09" y2="504.10"/>
<line x1="633.09" y1="31.30" x2="633.09" y2="35.70"/>
<line x1="674.81" y1="508.50" x2="674.81" y2="504.10"/>
<line x1="674.81" y1="31.30" x2="674.81" y2="35.70"/>
<line x1="716.52" y1="508.50" x2="716.52" y2="501.30"/>
<line x1="716.52" y1="31.30" x2="716.52" y2="38.50"/>
<line x1="758.24" y1="508.50" x2="758.24" y2="504.10"/>
<line x1="758.24" y1="31.30" x2="758.24" y2="35.70"/>
<line x1="799.95" y1="508.50" x2="799.95" y2="504.10"/>
<line x1="799.95" y1="31.30" x2="799.95" y2="35.70"/>
<line x1="841.67" y1="508.50" x2="841.67" y2="504.10"/>
<line x1="841.67" y1="31.30" x2="841.67" y2="35.70"/>
<line x1="883.38" y1="508.50" x2="883.38" y2="504.10"/>
<line x1="883.38" y1="31.30" x2="883.38" y2="35.70"/>
<line x1="90.70" y1="495.64" x2="95.50" y2="495.64"/>
<line x1="925.40" y1="495.64" x2="920.60" y2="495.64"/>
<line x1="90.70" y1="477.36" x2="95.50" y2="477.36"/>
<line x1="925.40" y1="477.36" x2="920.60" y2="477.36"/>
<line x1="90.70" y1="459.08" x2="95.50" y2="459.08"/>
<line x1="925.40" y1="459.08" x2="920.60" y2="459.08"/>
<line x1="90.70" y1="440.80" x2="98.30" y2="440.80"/>
<line x1="925.40" y1="440.80" x2="917.80" y2="440.80"/>
<line x1="90.70" y1="422.52" x2="95.50" y2="422.52"/>
<line x1="925.40" y1="422.52" x2="920.60" y2="422.52"/>
<line x1="90.70" y1="404.24" x2="95.50" y2="404.24"/>
<line x1="925.40" y1="404.24" x2="920.60" y2="404.24"/>
<line x1="90.70" y1="385.96" x2="95.50" y2="385.96"/>
<line x1="925.40" y1="385.96" x2="920.60" y2="385.96"/>
<line x1="90.70" y1="367.68" x2="95.50" y2="367.68"/>
<line x1="925.40" y1="367.68" x2="920.60" y2="367.68"/>
<line x1="90.70" y1="349.40" x2="98.30" y2="349.40"/>
<line x1="925.40" y1="349.40" x2="917.80" y2="349.40"/>
<line x1="90.70" y1="331.12" x2="95.50" y2="331.12"/>
<line x1="925.40" y1="331.12" x2="920.60" y2="331.12"/>
<line x1="90.70" y1="312.84" x2="95.50" y2="312.84"/>
<line x1="925.40" y1="312.84" x2="920.60" y2="312.84"/>
<line x1="90.70" y1="294.56" x2="95.50" y2="294.56"/>
<line x1="925.40" y1="294.56" x2="920.60" y2="294.56"/>
<line x1="90.70" y1="276.28" x2="95.50" y2="276.28"/>
<line x1="925.40" y1="276.28" x2="920.60" y2="276.28"/>
<line x1="90.70" y1="258.00" x2="98.30" y2="258.00"/>
<line x1="925.40" y1="258.00" x2="917.80" y2="258.00"/>
<line x1="90.70" y1="239.72" x2="95.50" y2="239.72"/>
<line x1="925.40" y1="239.72" x2="920.60" y2="239.72"/>
<line x1="90.70" y1="221.44" x2="95.50" y2="221.44"/>
<line x1="925.40" y1="221.44" x2="920.60" y2="221.44"/>
<line x1="90.70" y1="203.16" x2="95.50" y2="203.16"/>
<line x1="925.40" y1="203.16" x2="920.60" y2="203.16"/>
<line x1="90.70" y1="184.88" x2="95.50" y2="184.88"/>
<line x1="925.40" y1="184.88" x2="920.60" y2="184.88"/>
<line x1="90.70" y1="166.60" x2="98.30" y2="166.60"/>
<line x1="925.40" y1="166.60" x2="917.80" y2="166.60"/>
<line x1="90.70" y1="148.32" x2="95.50" y2="148.32"/>
<line x1="925.40" y1="148.32" x2="920.60" y2="148.32"/>
<line x1="90.70" y1="130.04" x2="95.50" y2="130.04"/>
<line x1="925.40" y1="130.04" x2="920.60" y2="130.04"/>
<line x1="90.70" y1="111.76" x2="95.50" y2="111.76"/>
<line x1="925.40" y1="111.76" x2="920.60" y2="111.76"/>
<line x1="90.70" y1="93.48" x2="95.50" y2="93.48"/>
<line x1="925.40" y1="93.48" x2="920.60" y2="93.48"/>
<line x1="90.70" y1="75.20" x2="98.30" y2="75.20"/>
<line x1="925.40" y1="75.20" x2="917.80" y2="75.20"/>
<line x1="90.70" y1="56.92" x2="95.50" y2="56.92"/>
<line x1="925.40" y1="56.92" x2="920.60" y2="56.92"/>
<line x1="90.70" y1="38.64" x2="95.50" y2="38.64"/>
<line x1="925.40" y1="38.64" x2="920.60" y2="38.64"/>
</g>
<line x1="299.43" y1="508.40" x2="299.43" y2="31.30" stroke="#000" stroke-width="4.4" stroke-dasharray="7.64 7.64"/>
<line x1="716.52" y1="508.40" x2="716.52" y2="31.30" stroke="#ff00ff" stroke-width="4.4" stroke-dasharray="7.64 7.64"/>
<g font-family="Liberation Sans, sans-serif" font-size="19.6px" fill="#000">
<text x="85.1" y="445.70" text-anchor="end" textLength="39.6" lengthAdjust="spacingAndGlyphs">0.10</text>
<text x="85.1" y="354.30" text-anchor="end" textLength="39.6" lengthAdjust="spacingAndGlyphs">0.15</text>
<text x="85.1" y="262.90" text-anchor="end" textLength="39.6" lengthAdjust="spacingAndGlyphs">0.20</text>
<text x="85.1" y="171.50" text-anchor="end" textLength="39.6" lengthAdjust="spacingAndGlyphs">0.25</text>
<text x="85.1" y="80.10" text-anchor="end" textLength="39.6" lengthAdjust="spacingAndGlyphs">0.30</text>
<text x="299.27" y="532.0" text-anchor="middle" textLength="28" lengthAdjust="spacingAndGlyphs">0.5</text>
<text x="507.85" y="532.0" text-anchor="middle" textLength="28" lengthAdjust="spacingAndGlyphs">1.0</text>
<text x="716.42" y="532.0" text-anchor="middle" textLength="28" lengthAdjust="spacingAndGlyphs">1.5</text>
</g>
<g fill="#fff">
<rect x="494.30" y="529.50" width="5.20" height="2.80"/>
<rect x="501.80" y="529.50" width="2.90" height="2.80"/>
<rect x="703.30" y="529.50" width="3.90" height="2.80"/>
<rect x="709.80" y="529.50" width="3.90" height="2.80"/>
<rect x="63.30" y="351.50" width="3.90" height="2.80"/>
<rect x="69.80" y="351.50" width="3.90" height="2.80"/>
<rect x="63.30" y="443.50" width="3.90" height="2.80"/>
<rect x="69.80" y="443.50" width="3.90" height="2.80"/>
</g>
<line x1="103.2" y1="242.60" x2="163.2" y2="242.60" stroke="#ff0000" stroke-width="3"/>
<g font-family="Liberation Serif, serif" fill="#000">
<text x="183.0" y="253.60" font-size="23px" font-style="italic" textLength="11.5" lengthAdjust="spacingAndGlyphs">p</text>
<text x="195.6" y="256.80" font-size="15.5px" font-weight="bold" textLength="16.6" lengthAdjust="spacingAndGlyphs">in</text>
<path d="M222.2,245.30 h15.4 M222.2,250.10 h15.4" stroke="#000" stroke-width="1" fill="none"/>
<text x="246.3" y="253.60" font-size="23.7px" textLength="29.8" lengthAdjust="spacingAndGlyphs">0.5</text>
</g>
<line x1="103.2" y1="292.10" x2="163.2" y2="292.10" stroke="#000000" stroke-width="3"/>
<g font-family="Liberation Serif, serif" fill="#000">
<text x="183.0" y="303.10" font-size="23px" font-style="italic" textLength="11.5" lengthAdjust="spacingAndGlyphs">p</text>
<text x="195.6" y="306.30" font-size="15.5px" font-weight="bold" textLength="16.6" lengthAdjust="spacingAndGlyphs">in</text>
<path d="M222.2,294.80 h15.4 M222.2,299.60 h15.4" stroke="#000" stroke-width="1" fill="none"/>
<text x="246.3" y="303.10" font-size="23.7px" textLength="29.8" lengthAdjust="spacingAndGlyphs">0.4</text>
</g>
<line x1="103.2" y1="341.60" x2="163.2" y2="341.60" stroke="#0000ff" stroke-width="3"/>
<g font-family="Liberation Serif, serif" fill="#000">
<text x="183.0" y="352.60" font-size="23px" font-style="italic" textLength="11.5" lengthAdjust="spacingAndGlyphs">p</text>
<text x="195.6" y="355.80" font-size="15.5px" font-weight="bold" textLength="16.6" lengthAdjust="spacingAndGlyphs">in</text>
<path d="M222.2,344.30 h15.4 M222.2,349.10 h15.4" stroke="#000" stroke-width="1" fill="none"/>
<text x="246.3" y="352.60" font-size="23.7px" textLength="29.8" lengthAdjust="spacingAndGlyphs">0.3</text>
</g>
<line x1="103.2" y1="391.10" x2="163.2" y2="391.10" stroke="#800080" stroke-width="3"/>
<g font-family="Liberation Serif, serif" fill="#000">
<text x="183.0" y="402.10" font-size="23px" font-style="italic" textLength="11.5" lengthAdjust="spacingAndGlyphs">p</text>
<text x="195.6" y="405.30" font-size="15.5px" font-weight="bold" textLength="16.6" lengthAdjust="spacingAndGlyphs">in</text>
<path d="M222.2,393.80 h15.4 M222.2,398.60 h15.4" stroke="#000" stroke-width="1" fill="none"/>
<text x="246.3" y="402.10" font-size="23.7px" textLength="29.8" lengthAdjust="spacingAndGlyphs">0.2</text>
</g>
<g font-family="Liberation Serif, serif" font-size="23px" fill="#000">
<text x="137.60" y="20.60" textLength="127.00" lengthAdjust="spacingAndGlyphs" >Logarithmic</text>
<text x="273.60" y="20.60" textLength="102.60" lengthAdjust="spacingAndGlyphs" >negativity</text>
<text x="386.60" y="20.60" textLength="21.80" lengthAdjust="spacingAndGlyphs" >vs</text>
<text x="416.80" y="20.60" textLength="50.20" lengthAdjust="spacingAndGlyphs" >mass</text>
<text x="476.00" y="20.60" textLength="106.40" lengthAdjust="spacingAndGlyphs" >parameter</text>
<text x="591.40" y="20.60" textLength="27.00" lengthAdjust="spacingAndGlyphs" >for</text>
<text x="628.00" y="20.60" textLength="53.90" lengthAdjust="spacingAndGlyphs" >small</text>
<text x="691.60" y="20.60" textLength="8.00" lengthAdjust="spacingAndGlyphs" >f</text>
<text x="699.30" y="24.60" textLength="10.00" lengthAdjust="spacingAndGlyphs" font-size="15.5px">p</text>
<text x="709.80" y="26.80" textLength="12.80" lengthAdjust="spacingAndGlyphs" font-size="10.2px" font-weight="bold">in</text>
<path d="M733,13.5 h16.2 M733,17.2 h16.2 M747.3,5.0 L735.7,25.2" stroke="#000" stroke-width="1" fill="none"/>
<text x="757.50" y="20.60" textLength="11.20" lengthAdjust="spacingAndGlyphs" >0</text>
<text x="771.60" y="20.60" textLength="3.40" lengthAdjust="spacingAndGlyphs" >,</text>
<text x="781.40" y="20.60" textLength="17.60" lengthAdjust="spacingAndGlyphs" >m</text>
<text x="800.60" y="24.60" textLength="9.80" lengthAdjust="spacingAndGlyphs" font-size="15.5px">p</text>
<text x="810.90" y="26.80" textLength="13.10" lengthAdjust="spacingAndGlyphs" font-size="10.2px" font-weight="bold">in</text>
<path d="M834.2,13.5 h16.4 M834.2,17.2 h16.4" stroke="#000" stroke-width="1" fill="none"/>
<text x="858.90" y="20.60" textLength="11.20" lengthAdjust="spacingAndGlyphs" >0</text>
</g>
<g font-family="Liberation Serif, serif" font-size="23px" fill="#000">
<text x="399.90" y="571.50" textLength="52.80" lengthAdjust="spacingAndGlyphs" >Mass</text>
<text x="461.30" y="571.50" textLength="106.40" lengthAdjust="spacingAndGlyphs" >parameter</text>
<text x="593.60" y="571.50" textLength="13.40" lengthAdjust="spacingAndGlyphs" font-style="italic" font-size="23.5px">ν</text>
<g transform="translate(0,571.50)">
<path d="M591.20,-16.40 A12.47,12.47 0 0 0 591.20,4.80 A14.97,14.97 0 0 1 591.20,-16.40 Z" fill="#000" stroke="#000" stroke-width="0.5" stroke-linejoin="round"/>
<path d="M608.50,-16.40 A12.47,12.47 0 0 1 608.50,4.80 A14.97,14.97 0 0 0 608.50,-16.40 Z" fill="#000" stroke="#000" stroke-width="0.5" stroke-linejoin="round"/>
</g>
</g>
<g font-family="Liberation Serif, serif" font-size="24.8px" fill="#000" transform="translate(22.8,430.1) rotate(-90)">
<text x="-0.30" y="0.00" textLength="119.90" lengthAdjust="spacingAndGlyphs" >Logarithmic</text>
<text x="124.90" y="0.00" textLength="97.20" lengthAdjust="spacingAndGlyphs" >negativity</text>
<text x="291.60" y="0.00" textLength="12.00" lengthAdjust="spacingAndGlyphs" font-style="italic" font-size="23.5px">ν</text>
<path d="M245.90,-18.80 A13.48,13.48 0 0 0 245.90,6.00 A14.82,14.82 0 0 1 245.90,-18.80 Z" fill="#000" stroke="#000" stroke-width="0.5" stroke-linejoin="round"/>
<path d="M291.40,-18.80 A13.48,13.48 0 0 0 291.40,6.00 A14.82,14.82 0 0 1 291.40,-18.80 Z" fill="#000" stroke="#000" stroke-width="0.5" stroke-linejoin="round"/>
<path d="M304.40,-18.80 A13.76,13.76 0 0 1 304.40,6.00 A15.35,15.35 0 0 0 304.40,-18.80 Z" fill="#000" stroke="#000" stroke-width="0.5" stroke-linejoin="round"/>
<path d="M312.70,-18.80 A14.00,14.00 0 0 1 312.70,6.00 A15.81,15.81 0 0 0 312.70,-18.80 Z" fill="#000" stroke="#000" stroke-width="0.5" stroke-linejoin="round"/>
</g>
<g fill="none" stroke="#000" stroke-linecap="round" stroke-linejoin="round">
<path d="M22.6,167.4 L6.2,161.2" stroke-width="0.9"/>
<path d="M6.2,161.0 L22.6,155.1" stroke-width="2.0"/>
<path d="M22.7,155.0 L5.2,147.6" stroke-width="0.9"/>
<path d="M3.6,146.3 Q4.6,148.6 6.6,148.3" stroke-width="1.5"/>
<circle cx="22.3" cy="167.5" r="1.0" fill="#000" stroke="none"/>
<path d="M7.6,171.6 Q5.2,172.0 6.0,174.4 Q7.2,177.6 19.6,179.8" stroke-width="1.7"/>
<circle cx="7.6" cy="171.8" r="1.1" fill="#000" stroke="none"/>
<path d="M20.6,181.4 Q21.6,176 22.4,169.8" stroke-width="1.9"/>
<path d="M19.6,179.8 L22.9,182.6" stroke-width="0.9"/>
</g>
</svg>
</body></html>
